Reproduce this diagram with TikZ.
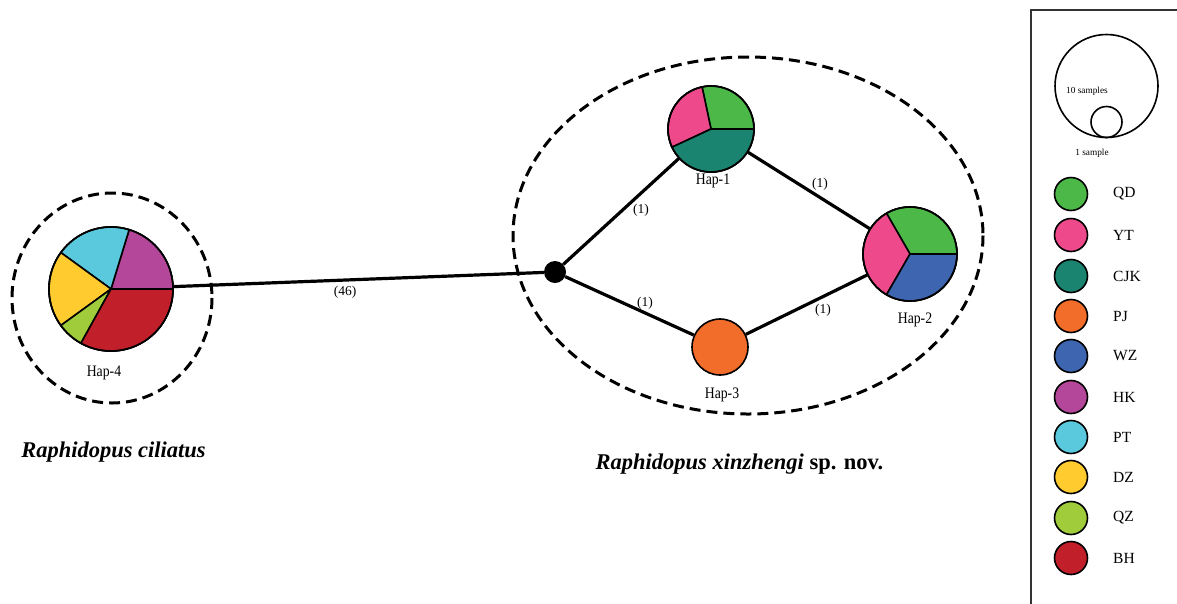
\documentclass[tikz,border=0pt]{standalone}
\usepackage{fontspec}
\setmainfont{Liberation Serif}
\definecolor{cQD}{HTML}{4CB848}
\definecolor{cYT}{HTML}{EE4A8B}
\definecolor{cCJK}{HTML}{1B8470}
\definecolor{cPJ}{HTML}{F26C2A}
\definecolor{cWZ}{HTML}{3D65B0}
\definecolor{cHK}{HTML}{B4479A}
\definecolor{cPT}{HTML}{5BC9DD}
\definecolor{cDZ}{HTML}{FFCB2F}
\definecolor{cQZ}{HTML}{A0CB3B}
\definecolor{cBH}{HTML}{C1202A}
\newcommand{\pieslice}[5]{%
  \filldraw[fill=#5, draw=black, line width=1.6pt, line join=round] (#1) -- ++(-#3:#2) arc[start angle=-#3, end angle=-#4, radius=#2] -- cycle;}
\newcommand{\haptext}[1]{\scalebox{0.86}[1]{#1}}
\tikzset{
  hapnode/.style={circle, draw=black, line width=1.6pt, inner sep=0pt},
  link/.style={draw=black, line width=3.2pt},
  groupline/.style={draw=black, line width=3pt, dash pattern=on 11pt off 6pt},
  hlabel/.style={font=\fontsize{16}{18}\selectfont, inner sep=0pt},
  elabel/.style={font=\fontsize{13.5}{15}\selectfont, inner sep=0pt},
  legdot/.style={circle, draw=black, line width=1.6pt, inner sep=0pt, minimum size=33pt},
  legtext/.style={font=\fontsize{15.5}{17}\selectfont, inner sep=0pt, anchor=west},
  species/.style={font=\fontsize{22.5}{26}\selectfont\bfseries, inner sep=0pt}
}
\begin{document}
\begin{tikzpicture}[x=1pt,y=-1pt]
\useasboundingbox (0,0) rectangle (1177,603);
\fill[white] (0,0) rectangle (1177,603);

% group outlines
\draw[groupline] (112,298) ellipse[x radius=100, y radius=105];
\draw[groupline] (748,235.5) ellipse[x radius=235, y radius=178.5];

% nodes
\node[hapnode, minimum size=124pt] (h4) at (111,289) {};
\node[hapnode, minimum size=86pt] (h1) at (711,129) {};
\node[hapnode, minimum size=94pt] (h2) at (910,254) {};
\node[hapnode, minimum size=56pt, fill=cPJ] (h3) at (720,347) {};
\node[circle, fill=black, inner sep=0pt, minimum size=22pt] (mv) at (555,272) {};

% connectors
\draw[link] (h4) -- (mv);
\draw[link] (mv) -- (h1);
\draw[link] (mv) -- (h3);
\draw[link] (h1) -- (h2);
\draw[link] (h3) -- (h2);

% pies
\pieslice{h4.center}{62}{0}{73}{cHK}
\pieslice{h4.center}{62}{73}{144}{cPT}
\pieslice{h4.center}{62}{144}{216}{cDZ}
\pieslice{h4.center}{62}{216}{241}{cQZ}
\pieslice{h4.center}{62}{241}{360}{cBH}
\pieslice{h1.center}{43}{0}{102}{cQD}
\pieslice{h1.center}{43}{102}{205}{cYT}
\pieslice{h1.center}{43}{205}{360}{cCJK}
\pieslice{h2.center}{47}{0}{120}{cQD}
\pieslice{h2.center}{47}{120}{240}{cYT}
\pieslice{h2.center}{47}{240}{360}{cWZ}
\draw[line width=1.6pt] (h4.center) circle[radius=62];
\draw[line width=1.6pt] (h1.center) circle[radius=43];
\draw[line width=1.6pt] (h2.center) circle[radius=47];

% haplotype labels
\node[hlabel] (l4) at (104,373) {\haptext{Hap-4}};
\node[hlabel] (l1) at (713,181) {\haptext{Hap-1}};
\node[hlabel] (l2) at (915,320) {\haptext{Hap-2}};
\node[hlabel] (l3) at (722,395) {\haptext{Hap-3}};

% mutation step labels
\node[elabel] (e46) at (345,292) {(46)};
\node[elabel] (ea) at (641,210) {(1)};
\node[elabel] (eb) at (820,184) {(1)};
\node[elabel] (ec) at (645,303) {(1)};
\node[elabel] (ed) at (823,310) {(1)};

% species names
\node[species] (sp1) at (113.5,452) {\itshape Raphidopus ciliatus};
\node[species] (sp2) at (739.5,464) {\itshape Raphidopus xinzhengi\/\upshape\ sp. nov.};

% legend
\draw[line width=1.8pt, draw=black!80] (1031,630) -- (1031,10) -- (1200,10);
\node[circle, draw=black, line width=1.6pt, inner sep=0pt, minimum size=103pt] (s10) at (1106.5,86) {};
\node[circle, draw=black, line width=1.6pt, inner sep=0pt, minimum size=31pt] (s1) at (1106.5,122) {};
\node[font=\fontsize{9.3}{10}\selectfont, inner sep=0pt] (t10) at (1087,91) {10 samples};
\node[font=\fontsize{9.3}{10}\selectfont, inner sep=0pt] (t1) at (1092,153) {1 sample};

\foreach \c/\t/\y in {cQD/QD/194, cYT/YT/235, cCJK/CJK/276, cPJ/PJ/316, cWZ/WZ/356, cHK/HK/397, cPT/PT/437, cDZ/DZ/477, cQZ/QZ/518, cBH/BH/558}{
  \node[legdot, fill=\c] (d\t) at (1071,\y) {};
  \node[legtext] (n\t) at (1113,\y) {\t};
}
\end{tikzpicture}
\end{document}
